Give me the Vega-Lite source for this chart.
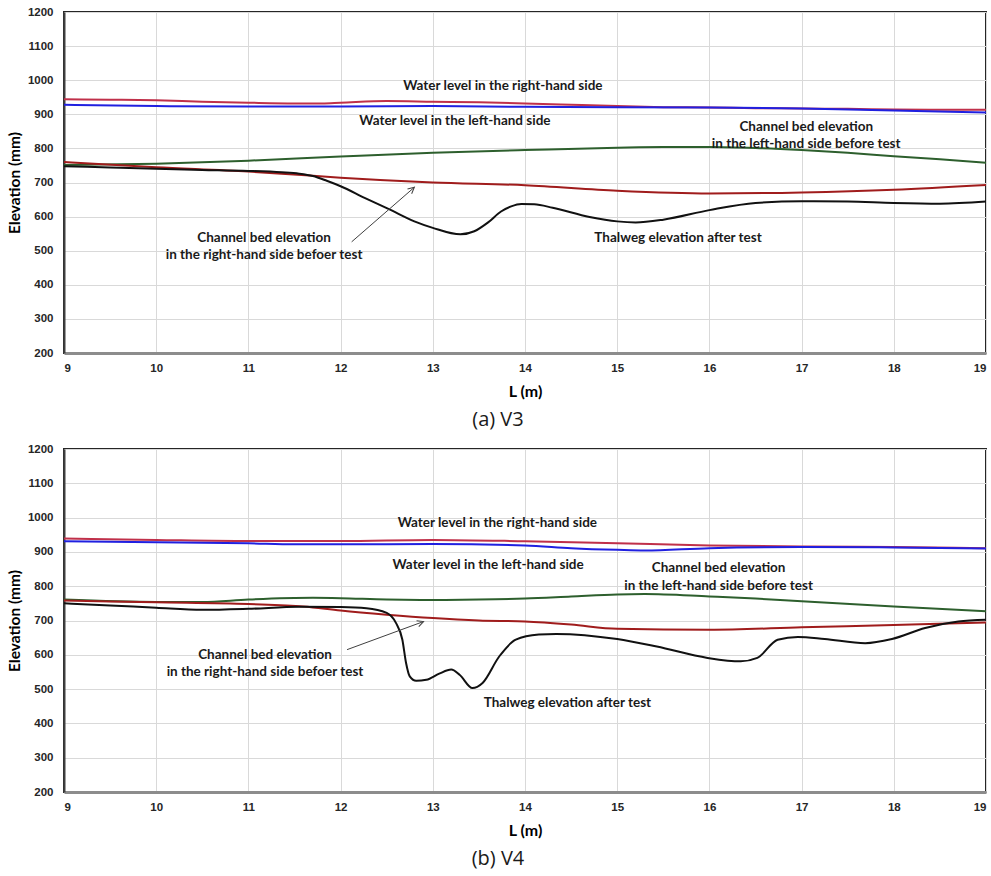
{
  "$schema": "https://vega.github.io/schema/vega-lite/v6.json",
  "padding": {"left": 6, "top": 5, "right": 5, "bottom": 5},
  "background": "white",
  "spacing": 11,
  "config": {
    "view": {"stroke": "#262626", "strokeWidth": 2},
    "text": {"font": "Lato", "fontWeight": "bold", "fontSize": 13.5, "color": "#1a1a1a"}
  },
  "datasets": {
    "v3": [
      {"L": 9, "elev": 944, "series": "Water level right"},
      {"L": 9.5, "elev": 943, "series": "Water level right"},
      {"L": 10, "elev": 941, "series": "Water level right"},
      {"L": 10.5, "elev": 937, "series": "Water level right"},
      {"L": 11, "elev": 934, "series": "Water level right"},
      {"L": 11.5, "elev": 932, "series": "Water level right"},
      {"L": 11.8, "elev": 932, "series": "Water level right"},
      {"L": 12, "elev": 934, "series": "Water level right"},
      {"L": 12.5, "elev": 939, "series": "Water level right"},
      {"L": 13, "elev": 937, "series": "Water level right"},
      {"L": 13.5, "elev": 935, "series": "Water level right"},
      {"L": 14, "elev": 932, "series": "Water level right"},
      {"L": 14.5, "elev": 928, "series": "Water level right"},
      {"L": 15, "elev": 924, "series": "Water level right"},
      {"L": 15.5, "elev": 921, "series": "Water level right"},
      {"L": 16, "elev": 920, "series": "Water level right"},
      {"L": 16.5, "elev": 918, "series": "Water level right"},
      {"L": 17, "elev": 917, "series": "Water level right"},
      {"L": 17.5, "elev": 916, "series": "Water level right"},
      {"L": 18, "elev": 914, "series": "Water level right"},
      {"L": 18.5, "elev": 913, "series": "Water level right"},
      {"L": 19, "elev": 913, "series": "Water level right"},
      {"L": 9, "elev": 928, "series": "Water level left"},
      {"L": 10, "elev": 924, "series": "Water level left"},
      {"L": 11, "elev": 923, "series": "Water level left"},
      {"L": 12, "elev": 923, "series": "Water level left"},
      {"L": 13, "elev": 924, "series": "Water level left"},
      {"L": 14, "elev": 922, "series": "Water level left"},
      {"L": 15, "elev": 921, "series": "Water level left"},
      {"L": 16, "elev": 920, "series": "Water level left"},
      {"L": 17, "elev": 917, "series": "Water level left"},
      {"L": 18, "elev": 911, "series": "Water level left"},
      {"L": 19, "elev": 905, "series": "Water level left"},
      {"L": 9, "elev": 751, "series": "Bed left before"},
      {"L": 10, "elev": 755, "series": "Bed left before"},
      {"L": 11, "elev": 764, "series": "Bed left before"},
      {"L": 12, "elev": 776, "series": "Bed left before"},
      {"L": 13, "elev": 787, "series": "Bed left before"},
      {"L": 14, "elev": 795, "series": "Bed left before"},
      {"L": 15, "elev": 802, "series": "Bed left before"},
      {"L": 15.5, "elev": 804, "series": "Bed left before"},
      {"L": 16, "elev": 804, "series": "Bed left before"},
      {"L": 16.5, "elev": 801, "series": "Bed left before"},
      {"L": 17, "elev": 795, "series": "Bed left before"},
      {"L": 17.5, "elev": 787, "series": "Bed left before"},
      {"L": 18, "elev": 777, "series": "Bed left before"},
      {"L": 18.5, "elev": 768, "series": "Bed left before"},
      {"L": 19, "elev": 758, "series": "Bed left before"},
      {"L": 9, "elev": 760, "series": "Bed right before"},
      {"L": 10, "elev": 745, "series": "Bed right before"},
      {"L": 11, "elev": 732, "series": "Bed right before"},
      {"L": 11.36, "elev": 726, "series": "Bed right before"},
      {"L": 12, "elev": 714, "series": "Bed right before"},
      {"L": 13, "elev": 700, "series": "Bed right before"},
      {"L": 14, "elev": 692, "series": "Bed right before"},
      {"L": 15, "elev": 676, "series": "Bed right before"},
      {"L": 16, "elev": 668, "series": "Bed right before"},
      {"L": 17, "elev": 671, "series": "Bed right before"},
      {"L": 18, "elev": 679, "series": "Bed right before"},
      {"L": 19, "elev": 693, "series": "Bed right before"},
      {"L": 9, "elev": 748, "series": "Thalweg after"},
      {"L": 9.5, "elev": 744, "series": "Thalweg after"},
      {"L": 10, "elev": 740, "series": "Thalweg after"},
      {"L": 10.5, "elev": 737, "series": "Thalweg after"},
      {"L": 11, "elev": 734, "series": "Thalweg after"},
      {"L": 11.36, "elev": 730, "series": "Thalweg after"},
      {"L": 11.55, "elev": 726, "series": "Thalweg after"},
      {"L": 11.7, "elev": 719, "series": "Thalweg after"},
      {"L": 11.85, "elev": 705, "series": "Thalweg after"},
      {"L": 12, "elev": 689, "series": "Thalweg after"},
      {"L": 12.26, "elev": 655, "series": "Thalweg after"},
      {"L": 12.53, "elev": 621, "series": "Thalweg after"},
      {"L": 12.8, "elev": 586, "series": "Thalweg after"},
      {"L": 13, "elev": 567, "series": "Thalweg after"},
      {"L": 13.3, "elev": 548, "series": "Thalweg after"},
      {"L": 13.45, "elev": 557, "series": "Thalweg after"},
      {"L": 13.6, "elev": 583, "series": "Thalweg after"},
      {"L": 13.74, "elev": 615, "series": "Thalweg after"},
      {"L": 13.85, "elev": 630, "series": "Thalweg after"},
      {"L": 13.96, "elev": 637, "series": "Thalweg after"},
      {"L": 14.1, "elev": 636, "series": "Thalweg after"},
      {"L": 14.3, "elev": 626, "series": "Thalweg after"},
      {"L": 14.7, "elev": 599, "series": "Thalweg after"},
      {"L": 15, "elev": 586, "series": "Thalweg after"},
      {"L": 15.2, "elev": 583, "series": "Thalweg after"},
      {"L": 15.5, "elev": 591, "series": "Thalweg after"},
      {"L": 16, "elev": 619, "series": "Thalweg after"},
      {"L": 16.5, "elev": 640, "series": "Thalweg after"},
      {"L": 17, "elev": 645, "series": "Thalweg after"},
      {"L": 17.5, "elev": 644, "series": "Thalweg after"},
      {"L": 18, "elev": 640, "series": "Thalweg after"},
      {"L": 18.5, "elev": 638, "series": "Thalweg after"},
      {"L": 19, "elev": 644, "series": "Thalweg after"}
    ],
    "v4": [
      {"L": 9, "elev": 939, "series": "Water level right"},
      {"L": 10, "elev": 935, "series": "Water level right"},
      {"L": 11, "elev": 932, "series": "Water level right"},
      {"L": 12, "elev": 932, "series": "Water level right"},
      {"L": 13, "elev": 935, "series": "Water level right"},
      {"L": 14, "elev": 931, "series": "Water level right"},
      {"L": 15, "elev": 925, "series": "Water level right"},
      {"L": 16, "elev": 919, "series": "Water level right"},
      {"L": 17, "elev": 916, "series": "Water level right"},
      {"L": 18, "elev": 914, "series": "Water level right"},
      {"L": 19, "elev": 911, "series": "Water level right"},
      {"L": 9, "elev": 931, "series": "Water level left"},
      {"L": 10, "elev": 928, "series": "Water level left"},
      {"L": 11, "elev": 925, "series": "Water level left"},
      {"L": 11.5, "elev": 922, "series": "Water level left"},
      {"L": 12, "elev": 922, "series": "Water level left"},
      {"L": 13, "elev": 923, "series": "Water level left"},
      {"L": 14, "elev": 919, "series": "Water level left"},
      {"L": 14.5, "elev": 911, "series": "Water level left"},
      {"L": 15, "elev": 906, "series": "Water level left"},
      {"L": 15.3, "elev": 904, "series": "Water level left"},
      {"L": 16, "elev": 911, "series": "Water level left"},
      {"L": 17, "elev": 914, "series": "Water level left"},
      {"L": 18, "elev": 913, "series": "Water level left"},
      {"L": 19, "elev": 910, "series": "Water level left"},
      {"L": 9, "elev": 761, "series": "Bed left before"},
      {"L": 10, "elev": 754, "series": "Bed left before"},
      {"L": 10.5, "elev": 754, "series": "Bed left before"},
      {"L": 11, "elev": 761, "series": "Bed left before"},
      {"L": 11.7, "elev": 766, "series": "Bed left before"},
      {"L": 12, "elev": 765, "series": "Bed left before"},
      {"L": 12.5, "elev": 761, "series": "Bed left before"},
      {"L": 13, "elev": 760, "series": "Bed left before"},
      {"L": 13.5, "elev": 761, "series": "Bed left before"},
      {"L": 14, "elev": 764, "series": "Bed left before"},
      {"L": 14.5, "elev": 770, "series": "Bed left before"},
      {"L": 15, "elev": 776, "series": "Bed left before"},
      {"L": 15.3, "elev": 777, "series": "Bed left before"},
      {"L": 16, "elev": 770, "series": "Bed left before"},
      {"L": 16.5, "elev": 764, "series": "Bed left before"},
      {"L": 17, "elev": 756, "series": "Bed left before"},
      {"L": 18, "elev": 741, "series": "Bed left before"},
      {"L": 19, "elev": 727, "series": "Bed left before"},
      {"L": 9, "elev": 758, "series": "Bed right before"},
      {"L": 10, "elev": 753, "series": "Bed right before"},
      {"L": 11, "elev": 748, "series": "Bed right before"},
      {"L": 11.6, "elev": 741, "series": "Bed right before"},
      {"L": 12, "elev": 729, "series": "Bed right before"},
      {"L": 12.5, "elev": 717, "series": "Bed right before"},
      {"L": 13, "elev": 707, "series": "Bed right before"},
      {"L": 13.5, "elev": 700, "series": "Bed right before"},
      {"L": 14, "elev": 697, "series": "Bed right before"},
      {"L": 14.5, "elev": 688, "series": "Bed right before"},
      {"L": 15, "elev": 676, "series": "Bed right before"},
      {"L": 16, "elev": 673, "series": "Bed right before"},
      {"L": 17, "elev": 680, "series": "Bed right before"},
      {"L": 18, "elev": 687, "series": "Bed right before"},
      {"L": 19, "elev": 694, "series": "Bed right before"},
      {"L": 9, "elev": 750, "series": "Thalweg after"},
      {"L": 9.5, "elev": 744, "series": "Thalweg after"},
      {"L": 10, "elev": 737, "series": "Thalweg after"},
      {"L": 10.5, "elev": 731, "series": "Thalweg after"},
      {"L": 11, "elev": 734, "series": "Thalweg after"},
      {"L": 11.55, "elev": 740, "series": "Thalweg after"},
      {"L": 12, "elev": 739, "series": "Thalweg after"},
      {"L": 12.28, "elev": 736, "series": "Thalweg after"},
      {"L": 12.5, "elev": 722, "series": "Thalweg after"},
      {"L": 12.6, "elev": 693, "series": "Thalweg after"},
      {"L": 12.67, "elev": 644, "series": "Thalweg after"},
      {"L": 12.71, "elev": 576, "series": "Thalweg after"},
      {"L": 12.75, "elev": 537, "series": "Thalweg after"},
      {"L": 12.82, "elev": 524, "series": "Thalweg after"},
      {"L": 12.93, "elev": 527, "series": "Thalweg after"},
      {"L": 13.07, "elev": 545, "series": "Thalweg after"},
      {"L": 13.2, "elev": 557, "series": "Thalweg after"},
      {"L": 13.29, "elev": 542, "series": "Thalweg after"},
      {"L": 13.43, "elev": 503, "series": "Thalweg after"},
      {"L": 13.54, "elev": 518, "series": "Thalweg after"},
      {"L": 13.72, "elev": 595, "series": "Thalweg after"},
      {"L": 13.9, "elev": 644, "series": "Thalweg after"},
      {"L": 14.15, "elev": 659, "series": "Thalweg after"},
      {"L": 14.34, "elev": 661, "series": "Thalweg after"},
      {"L": 15, "elev": 646, "series": "Thalweg after"},
      {"L": 15.43, "elev": 624, "series": "Thalweg after"},
      {"L": 15.98, "elev": 591, "series": "Thalweg after"},
      {"L": 16.34, "elev": 581, "series": "Thalweg after"},
      {"L": 16.52, "elev": 591, "series": "Thalweg after"},
      {"L": 16.74, "elev": 644, "series": "Thalweg after"},
      {"L": 16.96, "elev": 652, "series": "Thalweg after"},
      {"L": 17.25, "elev": 646, "series": "Thalweg after"},
      {"L": 17.69, "elev": 634, "series": "Thalweg after"},
      {"L": 17.98, "elev": 646, "series": "Thalweg after"},
      {"L": 18.34, "elev": 678, "series": "Thalweg after"},
      {"L": 18.7, "elev": 697, "series": "Thalweg after"},
      {"L": 19, "elev": 702, "series": "Thalweg after"}
    ],
    "lab3": [
      {"L": 13.76, "elev": 982, "text": "Water level in the right-hand side"},
      {"L": 13.24, "elev": 880, "text": "Water level in the left-hand side"},
      {"L": 17.05, "elev": 864, "text": "Channel bed elevation"},
      {"L": 17.05, "elev": 814, "text": "in the left-hand side before test"},
      {"L": 15.66, "elev": 536, "text": "Thalweg elevation after test"},
      {"L": 11.17, "elev": 536, "text": "Channel bed elevation"},
      {"L": 11.17, "elev": 486, "text": "in the right-hand side befoer test"}
    ],
    "lab4": [
      {"L": 13.7, "elev": 984, "text": "Water level in the right-hand side"},
      {"L": 13.6, "elev": 861, "text": "Water level in the left-hand side"},
      {"L": 16.1, "elev": 854, "text": "Channel bed elevation"},
      {"L": 16.1, "elev": 802, "text": "in the left-hand side before test"},
      {"L": 14.46, "elev": 459, "text": "Thalweg elevation after test"},
      {"L": 11.18, "elev": 598, "text": "Channel bed elevation"},
      {"L": 11.18, "elev": 549, "text": "in the right-hand side befoer test"}
    ],
    "arr3": [{"L": 12.12, "elev": 526, "L2": 12.8, "elev2": 686}],
    "tip3": [{"L": 12.8, "elev": 686}],
    "arr4": [{"L": 12.07, "elev": 615, "L2": 12.9, "elev2": 697}],
    "tip4": [{"L": 12.9, "elev": 697}]
  },
  "vconcat": [
    {
      "width": 922,
      "height": 341,
      "title": {"text": "(a) V3", "orient": "bottom", "font": "Open Sans", "fontSize": 20, "fontWeight": "normal", "color": "#1a1a1a", "anchor": "middle", "frame": "group", "dx": -27, "offset": 10},
      "encoding": {
        "x": {"field": "L", "type": "quantitative", "scale": {"domain": [9, 19], "nice": false, "zero": false},
          "axis": {"title": "L (m)", "values": [9,10,11,12,13,14,15,16,17,18,19], "format": "d", "grid": true, "gridColor": "#d9d9d9", "gridWidth": 1, "ticks": false, "tickSize": 0, "labelOverlap": false, "labelFont": "Liberation Sans", "labelFontWeight": "bold", "labelFontSize": 11.5, "labelColor": "#262626", "labelPadding": 9, "domainColor": "#8c8c8c", "domainWidth": 3, "titleFont": "Lato", "titleFontWeight": "bold", "titleFontSize": 16, "titleColor": "#000000", "titlePadding": 10}},
        "y": {"field": "elev", "type": "quantitative", "scale": {"domain": [200, 1200], "nice": false, "zero": false},
          "axis": {"title": "Elevation (mm)", "values": [200,300,400,500,600,700,800,900,1000,1100,1200], "format": "d", "grid": true, "gridColor": "#d9d9d9", "gridWidth": 1, "ticks": false, "tickSize": 0, "labelOverlap": false, "labelFont": "Liberation Sans", "labelFontWeight": "bold", "labelFontSize": 11.5, "labelColor": "#262626", "labelPadding": 11, "domainColor": "#404040", "domainWidth": 2, "titleFont": "Lato", "titleFontWeight": "bold", "titleFontSize": 15.5, "titleColor": "#000000", "titlePadding": 5}}
      },
      "layer": [
        {
          "data": {"name": "v3"},
          "mark": {"type": "line", "interpolate": "monotone", "strokeWidth": 2},
          "encoding": {
            "color": {"field": "series", "type": "nominal", "legend": null, "scale": {"domain": ["Water level right", "Water level left", "Bed left before", "Bed right before", "Thalweg after"], "range": ["#c0304a", "#2020e0", "#2d5f2d", "#a01c1c", "#111111"]}}
          }
        },
        {
          "data": {"name": "lab3"},
          "mark": {"type": "text", "align": "center", "baseline": "middle"},
          "encoding": {"text": {"field": "text"}}
        },
        {
          "data": {"name": "arr3"},
          "mark": {"type": "rule", "color": "#404040", "strokeWidth": 1},
          "encoding": {"x2": {"field": "L2"}, "y2": {"field": "elev2"}}
        },
        {
          "data": {"name": "tip3"},
          "mark": {"type": "point", "shape": "M -0.5 1 L 0 0 L 0.5 1", "filled": false, "color": "#404040", "strokeWidth": 1, "size": 160, "angle": 49, "opacity": 1},
          "encoding": {}
        }
      ]
    },
    {
      "width": 922,
      "height": 343,
      "title": {"text": "(b) V4", "orient": "bottom", "font": "Open Sans", "fontSize": 20, "fontWeight": "normal", "color": "#1a1a1a", "anchor": "middle", "frame": "group", "dx": -27, "offset": 10},
      "encoding": {
        "x": {"field": "L", "type": "quantitative", "scale": {"domain": [9, 19], "nice": false, "zero": false},
          "axis": {"title": "L (m)", "values": [9,10,11,12,13,14,15,16,17,18,19], "format": "d", "grid": true, "gridColor": "#d9d9d9", "gridWidth": 1, "ticks": false, "tickSize": 0, "labelOverlap": false, "labelFont": "Liberation Sans", "labelFontWeight": "bold", "labelFontSize": 11.5, "labelColor": "#262626", "labelPadding": 9, "domainColor": "#8c8c8c", "domainWidth": 3, "titleFont": "Lato", "titleFontWeight": "bold", "titleFontSize": 16, "titleColor": "#000000", "titlePadding": 10}},
        "y": {"field": "elev", "type": "quantitative", "scale": {"domain": [200, 1200], "nice": false, "zero": false},
          "axis": {"title": "Elevation (mm)", "values": [200,300,400,500,600,700,800,900,1000,1100,1200], "format": "d", "grid": true, "gridColor": "#d9d9d9", "gridWidth": 1, "ticks": false, "tickSize": 0, "labelOverlap": false, "labelFont": "Liberation Sans", "labelFontWeight": "bold", "labelFontSize": 11.5, "labelColor": "#262626", "labelPadding": 11, "domainColor": "#404040", "domainWidth": 2, "titleFont": "Lato", "titleFontWeight": "bold", "titleFontSize": 15.5, "titleColor": "#000000", "titlePadding": 5}}
      },
      "layer": [
        {
          "data": {"name": "v4"},
          "mark": {"type": "line", "interpolate": "monotone", "strokeWidth": 2},
          "encoding": {
            "color": {"field": "series", "type": "nominal", "legend": null, "scale": {"domain": ["Water level right", "Water level left", "Bed left before", "Bed right before", "Thalweg after"], "range": ["#c0304a", "#2020e0", "#2d5f2d", "#a01c1c", "#111111"]}}
          }
        },
        {
          "data": {"name": "lab4"},
          "mark": {"type": "text", "align": "center", "baseline": "middle"},
          "encoding": {"text": {"field": "text"}}
        },
        {
          "data": {"name": "arr4"},
          "mark": {"type": "rule", "color": "#404040", "strokeWidth": 1},
          "encoding": {"x2": {"field": "L2"}, "y2": {"field": "elev2"}}
        },
        {
          "data": {"name": "tip4"},
          "mark": {"type": "point", "shape": "M -0.5 1 L 0 0 L 0.5 1", "filled": false, "color": "#404040", "strokeWidth": 1, "size": 160, "angle": 69.5, "opacity": 1},
          "encoding": {}
        }
      ]
    }
  ]
}
